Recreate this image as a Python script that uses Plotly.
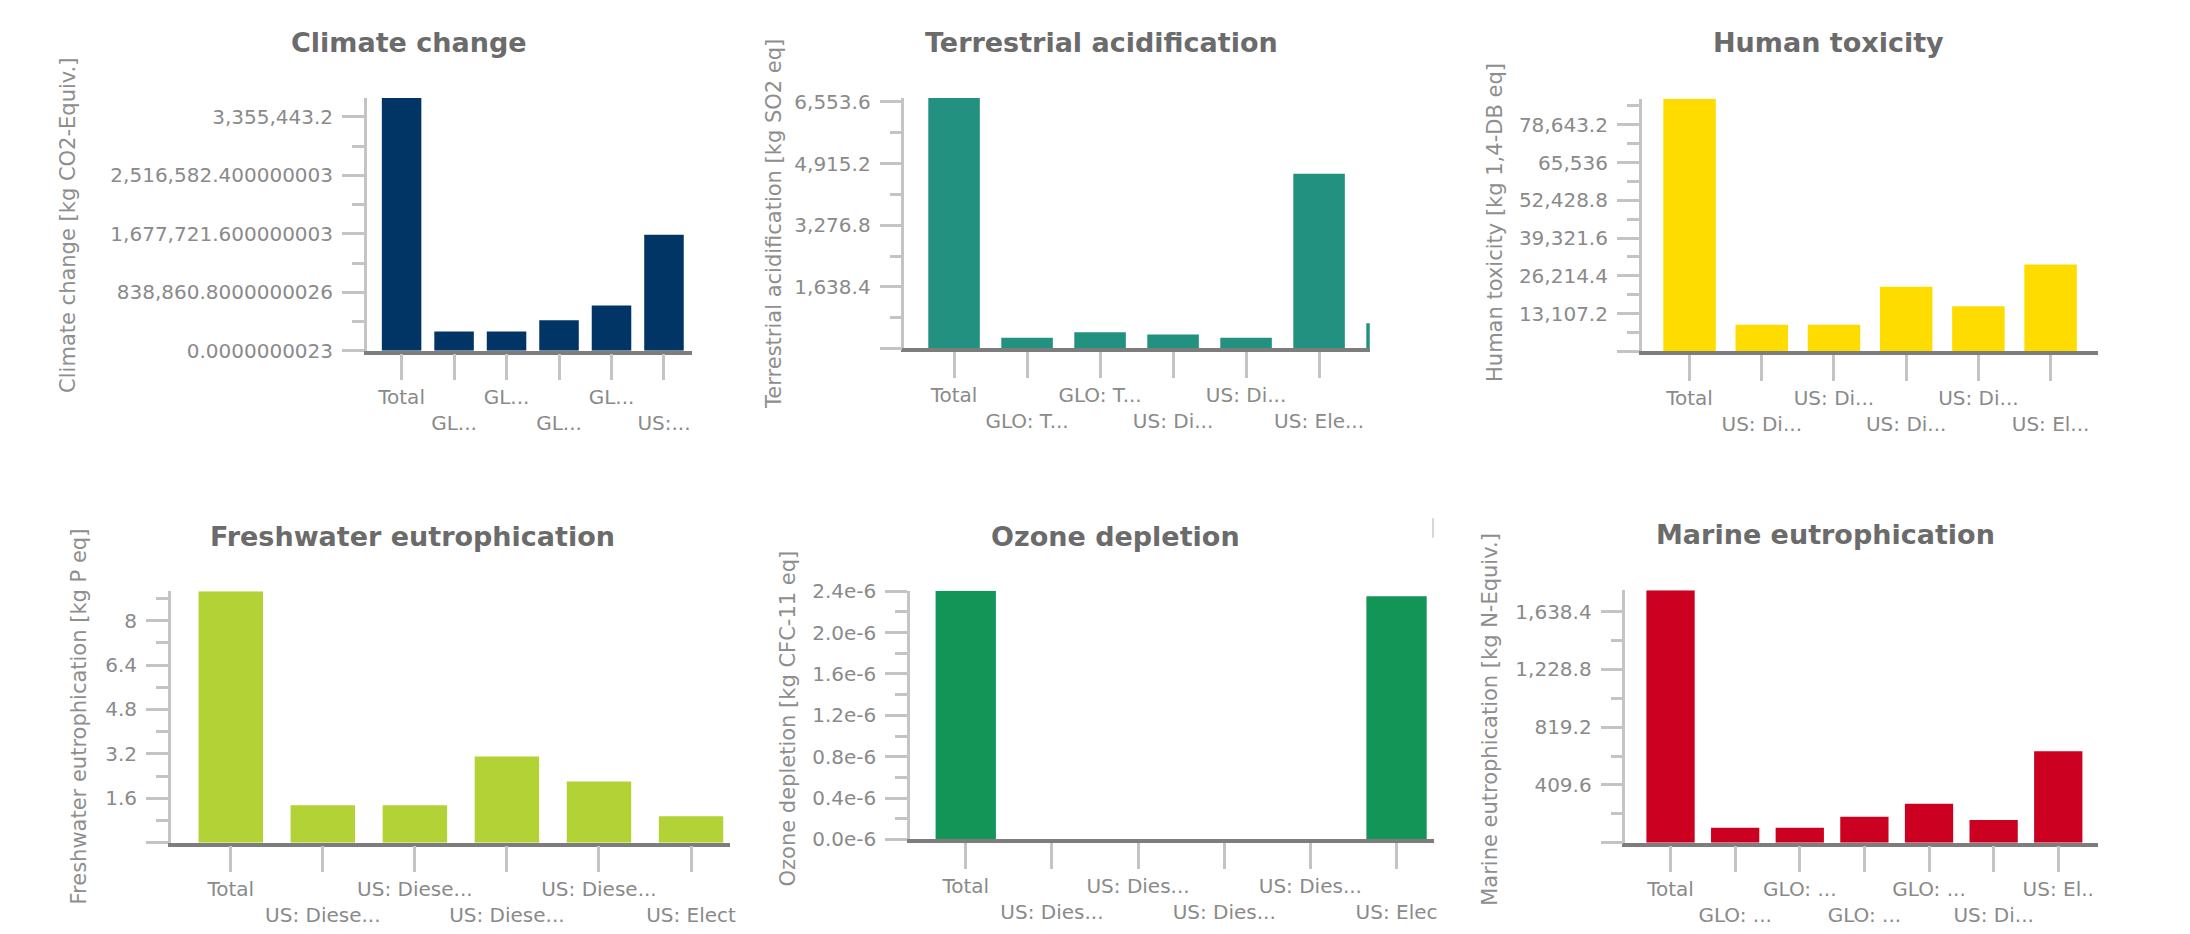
import plotly.graph_objects as go

W, H = 2190, 934

# ---------------- data ----------------
cc_labels = ["Total", "GL...", "GL...", "GL...", "GL...", "US:..."]
cc_values = [3626000, 275400, 275400, 439000, 648600, 1663700]
cc_ticks = [0, 838860.8, 1677721.6, 2516582.4, 3355443.2]
cc_ticktext = ["0.0000000023", "838,860.8000000026", "1,677,721.600000003",
               "2,516,582.400000003", "3,355,443.2"]

ta_labels = ["Total", "GLO: T...", "GLO: T...", "US: Di...", "US: Di...", "US: Ele...", "US: ..."]
ta_values = [6657, 285, 433, 371, 285, 4648, 674]
ta_ticks = [0, 1638.4, 3276.8, 4915.2, 6553.6]
ta_ticktext = ["", "1,638.4", "3,276.8", "4,915.2", "6,553.6"]

ht_labels = ["Total", "US: Di...", "US: Di...", "US: Di...", "US: Di...", "US: El..."]
ht_values = [87675, 9241, 9241, 22442, 15673, 30129]
ht_ticks = [0, 13107.2, 26214.4, 39321.6, 52428.8, 65536, 78643.2]
ht_ticktext = ["", "13,107.2", "26,214.4", "39,321.6", "52,428.8", "65,536", "78,643.2"]

fe_labels = ["Total", "US: Diese...", "US: Diese...", "US: Diese...", "US: Diese...", "US: Elect"]
fe_values = [9.056, 1.349, 1.349, 3.106, 2.203, 0.949]
fe_ticks = [0, 1.6, 3.2, 4.8, 6.4, 8]
fe_ticktext = ["", "1.6", "3.2", "4.8", "6.4", "8"]

od_labels = ["Total", "US: Dies...", "US: Dies...", "US: Dies...", "US: Dies...", "US: Elec"]
od_values = [2.406e-6, 0.0, 0.0, 0.0, 0.0, 2.352e-6]
od_ticks = [0, 0.4e-6, 0.8e-6, 1.2e-6, 1.6e-6, 2.0e-6, 2.4e-6]
od_ticktext = ["0.0e-6", "0.4e-6", "0.8e-6", "1.2e-6", "1.6e-6", "2.0e-6", "2.4e-6"]

me_labels = ["Total", "GLO: ...", "GLO: ...", "GLO: ...", "GLO: ...", "US: Di...", "US: El.."]
me_values = [1790, 106.5, 106.5, 184.7, 276.8, 161.9, 648]
me_ticks = [0, 409.6, 819.2, 1228.8, 1638.4]
me_ticktext = ["", "409.6", "819.2", "1,228.8", "1,638.4"]

titles = ["Climate change", "Terrestrial acidification", "Human toxicity",
          "Freshwater eutrophication", "Ozone depletion", "Marine eutrophication"]
axis_titles = ["Climate change [kg CO2-Equiv.]", "Terrestrial acidification [kg SO2 eq]",
               "Human toxicity [kg 1,4-DB eq]", "Freshwater eutrophication [kg P eq]",
               "Ozone depletion [kg CFC-11 eq]", "Marine eutrophication [kg N-Equiv.]"]

# ---------------- style / layout (pixels) ----------------
colors = ["#013565", "#23917F", "#FFDC00", "#B2D235", "#129556", "#CC0021"]
# plot-area boxes: left, right, top, bottom (px)
boxes = [(367.8, 693.7, 89.3, 348.3), (906.9, 1373.5, 89.3, 346.0), (1646.2, 2103.5, 90.0, 349.0),
         (171.3, 731.7, 595.0, 852.7), (912.5, 1437.7, 594.3, 849.3), (1629.9, 2103.5, 594.0, 852.7)]
xranges = [(-0.663, 5.53), (-0.680, 5.694), (-0.663, 5.653),
           (-0.651, 5.42), (-0.647, 5.432), (-0.698, 6.611)]
bar_w = [0.753, 0.706, 0.727, 0.70, 0.70, 0.747]
title_pos = [(409.8, 32), (1104.8, 32), (1833.6, 32), (413.2, 538.5), (1118.8, 539), (1830.2, 537)]
ytitle_pos = [(67.5, 220), (775.4, 218), (1498.4, 217), (79, 723.5), (790.5, 725), (1493.8, 726)]

panels = [
    (cc_labels, cc_values, cc_ticks, cc_ticktext),
    (ta_labels, ta_values, ta_ticks, ta_ticktext),
    (ht_labels, ht_values, ht_ticks, ht_ticktext),
    (fe_labels, fe_values, fe_ticks, fe_ticktext),
    (od_labels, od_values, od_ticks, od_ticktext),
    (me_labels, me_values, me_ticks, me_ticktext),
]

TICK_C = "#c4c4c4"
LABEL_C = "#8a8a8a"
FONT = "DejaVu Sans"

fig = go.Figure()
layout = dict(width=W, height=H, autosize=False, margin=dict(l=0, r=0, t=0, b=0),
              paper_bgcolor="white", plot_bgcolor="white", showlegend=False,
              annotations=[], shapes=[])

for i, (labels, values, ticks, ticktext) in enumerate(panels):
    n = i + 1
    xs = list(range(len(labels)))
    fig.add_trace(go.Bar(x=xs, y=values, width=bar_w[i], marker=dict(color=colors[i], line=dict(width=0)),
                         xaxis=f"x{n}", yaxis=f"y{n}", hoverinfo="x+y"))
    l, r, t, b = boxes[i]
    staggered = [lab if k % 2 == 0 else "<br>" + lab for k, lab in enumerate(labels)]
    step = ticks[1] - ticks[0]
    minors = [v + step / 2 for v in ticks if v + step / 2 <= max(values)]
    layout[f"xaxis{n}"] = dict(
        domain=[l / W, r / W], range=list(xranges[i]), anchor=f"y{n}",
        tickmode="array", tickvals=xs, ticktext=staggered, tickangle=0,
        ticks="outside", ticklen=26, tickwidth=2.5, tickcolor=TICK_C,
        showline=True, linecolor="#7d7d7d", linewidth=3.5,
        showgrid=False, zeroline=False, fixedrange=True,
        tickfont=dict(family=FONT, size=20, color=LABEL_C), ticklabelstandoff=0,
    )
    layout[f"yaxis{n}"] = dict(
        domain=[1 - b / H, 1 - t / H], range=[0, max(values)], anchor=f"x{n}",
        tickmode="array", tickvals=ticks, ticktext=ticktext,
        ticks="outside", ticklen=22, tickwidth=2.5, tickcolor=TICK_C,
        minor=dict(tickmode="array", tickvals=minors, ticks="outside", ticklen=12,
                   tickwidth=2.5, tickcolor=TICK_C),
        showline=True, linecolor=TICK_C, linewidth=2.5,
        showgrid=False, zeroline=False, fixedrange=True,
        tickfont=dict(family=FONT, size=20, color=LABEL_C), ticklabelstandoff=5,
    )
    tx, ty = title_pos[i]
    layout["annotations"].append(dict(
        text=titles[i], x=tx / W, y=1 - ty / H, xref="paper", yref="paper",
        xanchor="center", yanchor="middle", showarrow=False,
        font=dict(family=FONT, size=27, color="#6b6b6b", weight="bold")))
    ax_, ay_ = ytitle_pos[i]
    layout["annotations"].append(dict(
        text=axis_titles[i], x=ax_ / W, y=1 - ay_ / H, xref="paper", yref="paper",
        xanchor="center", yanchor="middle", showarrow=False, textangle=-90,
        font=dict(family=FONT, size=21, color="#8e8e8e")))

# small divider mark near the top-right of the ozone panel
layout["shapes"].append(dict(type="line", xref="paper", yref="paper",
                             x0=1437 / W, x1=1437 / W, y0=1 - 520 / H, y1=1 - 540 / H,
                             line=dict(color="#d6d6d6", width=2)))

fig.update_layout(**layout)
fig.write_html("out.html", config={"displayModeBar": False},
               post_script="document.body.style.margin='0';document.body.style.overflow='hidden';")
